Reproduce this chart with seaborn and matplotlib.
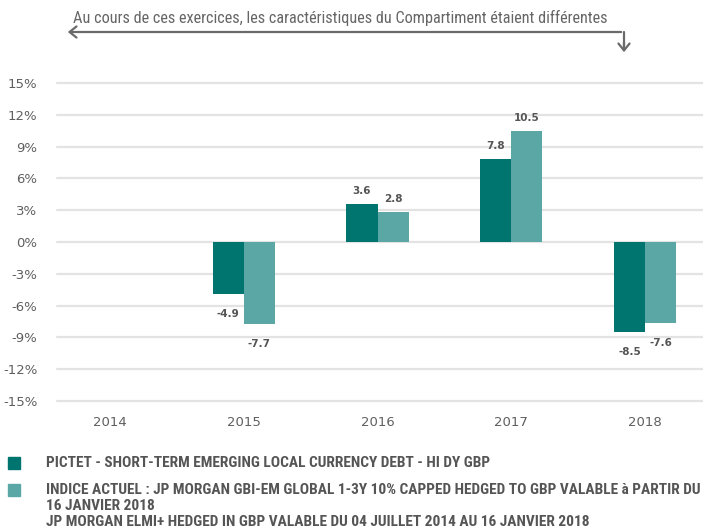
import matplotlib
matplotlib.use("Agg")
import matplotlib.pyplot as plt
from matplotlib.lines import Line2D
from matplotlib.patches import Rectangle, FancyArrowPatch
import numpy as np
import pandas as pd
import seaborn as sns

years = ["2014", "2015", "2016", "2017", "2018"]
fund_returns = [np.nan, -4.9, 3.6, 7.8, -8.5]
index_returns = [np.nan, -7.7, 2.8, 10.5, -7.6]
series_keys = ["Fonds", "Indice"]
series_colors = ["#00746F", "#5BA7A6"]
legend_labels = [
    "PICTET - SHORT-TERM EMERGING LOCAL CURRENCY DEBT - HI DY GBP",
    "INDICE ACTUEL : JP MORGAN GBI-EM GLOBAL 1-3Y 10% CAPPED HEDGED TO GBP VALABLE à PARTIR DU\n"
    "16 JANVIER 2018\n"
    "JP MORGAN ELMI+ HEDGED IN GBP VALABLE DU 04 JUILLET 2014 AU 16 JANVIER 2018",
]
y_ticks = [15, 12, 9, 6, 3, 0, -3, -6, -9, -12, -15]
note = "Au cours de ces exercices, les caractéristiques du Compartiment étaient différentes"

df = pd.DataFrame({
    "year": years * 2,
    "series": [series_keys[0]] * len(years) + [series_keys[1]] * len(years),
    "value": fund_returns + index_returns,
})

sns.set_style("white")
plt.rcParams["font.family"] = ["Roboto Condensed", "DejaVu Sans"]

text_grey = "#555555"
fig = plt.figure(figsize=(7.03, 5.28), dpi=100)
W, H = 703, 528
ax = fig.add_axes([57 / W, 1 - 401 / H, (W - 57) / W, (401 - 83) / H])

sns.barplot(data=df, x="year", y="value", hue="series", order=years,
            hue_order=series_keys, palette=series_colors, width=0.465,
            saturation=1, linewidth=0, ax=ax, legend=False, errorbar=None)

ax.set_xlim(-0.396, 4.433)
ax.set_ylim(-15, 15)
ax.set_yticks(y_ticks)
ax.set_yticklabels([f"{t}%" for t in y_ticks], family="DejaVu Sans",
                   fontsize=9.5, color="#5f5f5f")
ax.set_xticks(range(len(years)))
ax.set_xticklabels(years, family="DejaVu Sans", fontsize=9.5, color="#5f5f5f")
ax.tick_params(axis="both", length=0)
ax.tick_params(axis="y", pad=14)
ax.tick_params(axis="x", pad=11)
ax.set_xlabel("")
ax.set_ylabel("")
for t in y_ticks:
    ax.axhline(t, color="#e3e3e3", linewidth=1.6, zorder=0, clip_on=False)
for s in ax.spines.values():
    s.set_visible(False)

for container in ax.containers:
    for bar in container:
        h = bar.get_height()
        if np.isnan(h) or h == 0:
            continue
        xc = bar.get_x() + bar.get_width() / 2
        offset = 9.5 if h > 0 else -14.5
        ax.annotate(f"{h:.1f}", (xc, h), xytext=(0, offset), textcoords="offset points",
                    ha="center", va="center", fontsize=7.5, fontweight="bold",
                    family="DejaVu Sans", color=text_grey)

# note with bent arrow
fig.text(73 / W, 1 - 18 / H, note, fontsize=11.7, color="#666666", va="center", ha="left")
arrow_color = "#6a6a6a"
fig.add_artist(Line2D([624 / W, 624 / W], [1 - 32 / H, 1 - 46 / H], color=arrow_color, lw=1.6))
fig.add_artist(FancyArrowPatch((624 / W, 1 - 32 / H), (65 / W, 1 - 32 / H),
                               transform=fig.transFigure, arrowstyle="->,head_width=4,head_length=5",
                               color=arrow_color, lw=1.6, mutation_scale=1))
fig.add_artist(FancyArrowPatch((624 / W, 1 - 40 / H), (624 / W, 1 - 55 / H),
                               transform=fig.transFigure, arrowstyle="->,head_width=4,head_length=5",
                               color=arrow_color, lw=1.6, mutation_scale=1))

# legend
legend_y = [463, 490]
for color, label, y in zip(series_colors, legend_labels, legend_y):
    fig.add_artist(Rectangle((8 / W, 1 - (y + 6) / H), 12 / W, 12 / H,
                             transform=fig.transFigure, color=color))
    for k, line in enumerate(label.split("\n")):
        fig.text(46 / W, 1 - (y + 16 * k) / H, line, fontsize=11.1, fontweight="bold",
                 color=text_grey, va="center", ha="left")

fig.savefig("out.png", dpi=100)
